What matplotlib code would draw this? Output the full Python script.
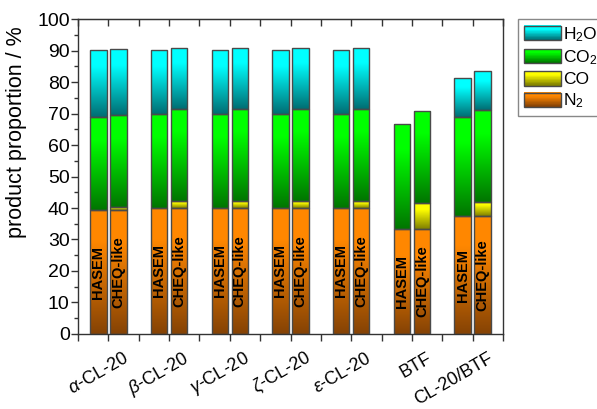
import numpy as np
import matplotlib
matplotlib.use("Agg")
import matplotlib.pyplot as plt
from matplotlib.patches import Rectangle
from matplotlib.legend_handler import HandlerBase
from matplotlib.ticker import FixedLocator, MultipleLocator
import matplotlib.transforms as mtransforms

plt.rcParams['font.family'] = ['Liberation Sans', 'DejaVu Sans']
plt.rcParams['mathtext.fontset'] = 'custom'
plt.rcParams['mathtext.rm'] = 'Liberation Sans'
plt.rcParams['mathtext.it'] = 'Liberation Sans:italic'
plt.rcParams['mathtext.bf'] = 'Liberation Sans:bold'

# ---------------- data ----------------
categories = [r'$\mathit{α}$-CL-20', r'$\mathit{β}$-CL-20', r'$\mathit{γ}$-CL-20',
              r'$\mathit{ζ}$-CL-20', r'$\mathit{ε}$-CL-20', 'BTF', 'CL-20/BTF']
methods = ['HASEM', 'CHEQ-like']

n2_hasem = [39.3, 40.0, 40.0, 40.0, 40.0, 33.3, 37.4]
co_hasem = [0.0, 0.0, 0.0, 0.0, 0.0, 0.0, 0.0]
co2_hasem = [29.5, 30.0, 30.0, 30.0, 30.0, 33.4, 31.4]
h2o_hasem = [21.4, 20.1, 20.1, 20.1, 20.1, 0.0, 12.5]

n2_cheq = [39.3, 40.0, 40.0, 40.0, 40.0, 33.3, 37.4]
co_cheq = [0.9, 2.1, 2.1, 2.1, 2.1, 8.2, 4.5]
co2_cheq = [29.2, 29.3, 29.3, 29.3, 29.3, 29.3, 29.2]
h2o_cheq = [21.2, 19.5, 19.5, 19.5, 19.5, 0.0, 12.3]

species = ['N$_2$', 'CO', 'CO$_2$', 'H$_2$O']
# (bright top colour, dark bottom colour)
grad_colors = {
    'N$_2$': ((1.00, 0.53, 0.00), (0.52, 0.26, 0.02)),
    'CO': ((1.00, 1.00, 0.00), (0.50, 0.50, 0.00)),
    'CO$_2$': ((0.00, 1.00, 0.00), (0.00, 0.46, 0.00)),
    'H$_2$O': ((0.00, 1.00, 1.00), (0.00, 0.43, 0.45)),
}

series = {
    'HASEM': [n2_hasem, co_hasem, co2_hasem, h2o_hasem],
    'CHEQ-like': [n2_cheq, co_cheq, co2_cheq, h2o_cheq],
}


def gradient(bright, dark, n=128, flat=0.25):
    t = np.linspace(0, 1, n)
    f = np.clip((t - flat) / (1 - flat), 0, 1)
    b = np.array(bright)
    d = np.array(dark)
    cols = b[None, :] * (1 - f[:, None]) + d[None, :] * f[:, None]
    return cols[:, None, :]


fig = plt.figure(figsize=(5.97, 4.09), dpi=100)
ax = fig.add_axes([0.1307, 0.1834, 0.8425 - 0.1307, 0.9535 - 0.1834])

x = np.arange(len(categories))
width = 0.27
offsets = {'HASEM': -0.165, 'CHEQ-like': 0.165}
edge = '#4a4a4a'

for m in methods:
    bottom = np.zeros(len(categories))
    for sp, vals in zip(species, series[m]):
        vals = np.array(vals)
        bars = ax.bar(x + offsets[m], vals, width, bottom=bottom,
                      facecolor='none', edgecolor=edge, linewidth=1.0, zorder=3)
        for patch, v in zip(bars.patches, vals):
            if v <= 0:
                patch.set_visible(False)
                continue
            x0, y0 = patch.get_x(), patch.get_y()
            im = ax.imshow(gradient(*grad_colors[sp]), aspect='auto',
                           extent=(x0, x0 + patch.get_width(), y0, y0 + patch.get_height()),
                           origin='upper', interpolation='bilinear', zorder=2)
            im.set_clip_path(patch)
        bottom = bottom + vals
    for xi, n2 in zip(x + offsets[m], series[m][0]):
        ax.text(xi, n2 / 2, m, rotation=90, ha='center', va='center',
                fontsize=10.5, fontweight='bold', color='black', zorder=4)

ax.set_xlim(-0.5, len(categories) - 0.5)
ax.set_ylim(0, 100)

ax.yaxis.set_major_locator(MultipleLocator(10))
ax.yaxis.set_minor_locator(MultipleLocator(5))
ax.tick_params(axis='y', which='major', direction='out', length=5, width=1,
               labelsize=14, color='#333333', pad=1)
ax.tick_params(axis='y', which='minor', direction='out', length=3, width=1, color='#333333')
ax.tick_params(axis='y', right=False)

ax.set_xticks(x)
ax.xaxis.set_minor_locator(FixedLocator(np.arange(len(categories) + 1) - 0.5))
ax.tick_params(axis='x', which='both', direction='out', length=5, width=1,
               color='#333333', labelbottom=False)

# rotated category labels
lab_trans = (mtransforms.blended_transform_factory(ax.transData, ax.transAxes)
             + mtransforms.ScaledTranslation(19 / 100, -23 / 100, fig.dpi_scale_trans))
for xi, cat in zip(x, categories):
    ax.text(xi, 0, cat, transform=lab_trans, rotation=30, rotation_mode='anchor',
            ha='right', va='center', fontsize=13, clip_on=False)

sec = ax.secondary_xaxis('top')
sec.set_xticks(x)
sec.xaxis.set_minor_locator(FixedLocator(np.arange(len(categories) + 1) - 0.5))
sec.tick_params(axis='x', which='both', direction='in', length=5, width=1,
                color='#333333', labeltop=False)
sec.spines['top'].set_color('#333333')

for s in ax.spines.values():
    s.set_color('#333333')
    s.set_linewidth(1.0)

ax.set_ylabel('product proportion / %', fontsize=15.5)
ax.yaxis.set_label_coords(-0.119, 0.64)


class GradHandler(HandlerBase):
    def __init__(self, bright, dark):
        super().__init__()
        self.bright = bright
        self.dark = dark

    def create_artists(self, legend, orig_handle, xdescent, ydescent, width,
                       height, fontsize, trans):
        cols = gradient(self.bright, self.dark, n=24)[:, 0, :]
        n = len(cols)
        arts = []
        for i, c in enumerate(cols):
            y0 = -ydescent + height * (1 - (i + 1) / n)
            arts.append(Rectangle((-xdescent, y0), width, height / n + 0.3,
                                  facecolor=c, edgecolor='none', transform=trans))
        arts.append(Rectangle((-xdescent, -ydescent), width, height,
                              facecolor='none', edgecolor=edge, linewidth=1.0,
                              transform=trans))
        return arts


legend_order = ['H$_2$O', 'CO$_2$', 'CO', 'N$_2$']
proxies = [Rectangle((0, 0), 1, 1, label=s) for s in legend_order]
hmap = {p: GradHandler(*grad_colors[s]) for p, s in zip(proxies, legend_order)}
leg = fig.legend(handles=proxies, labels=legend_order, handler_map=hmap,
                 loc='upper left', bbox_to_anchor=(0.868, 0.9535),
                 bbox_transform=fig.transFigure, borderaxespad=0,
                 fontsize=12.5, handlelength=2.1, handleheight=0.9,
                 handletextpad=0.15, labelspacing=0.25, borderpad=0.35,
                 fancybox=False, framealpha=1)
leg.get_frame().set_edgecolor('#888888')
leg.get_frame().set_linewidth(1.0)

fig.savefig('out.png', dpi=100)
